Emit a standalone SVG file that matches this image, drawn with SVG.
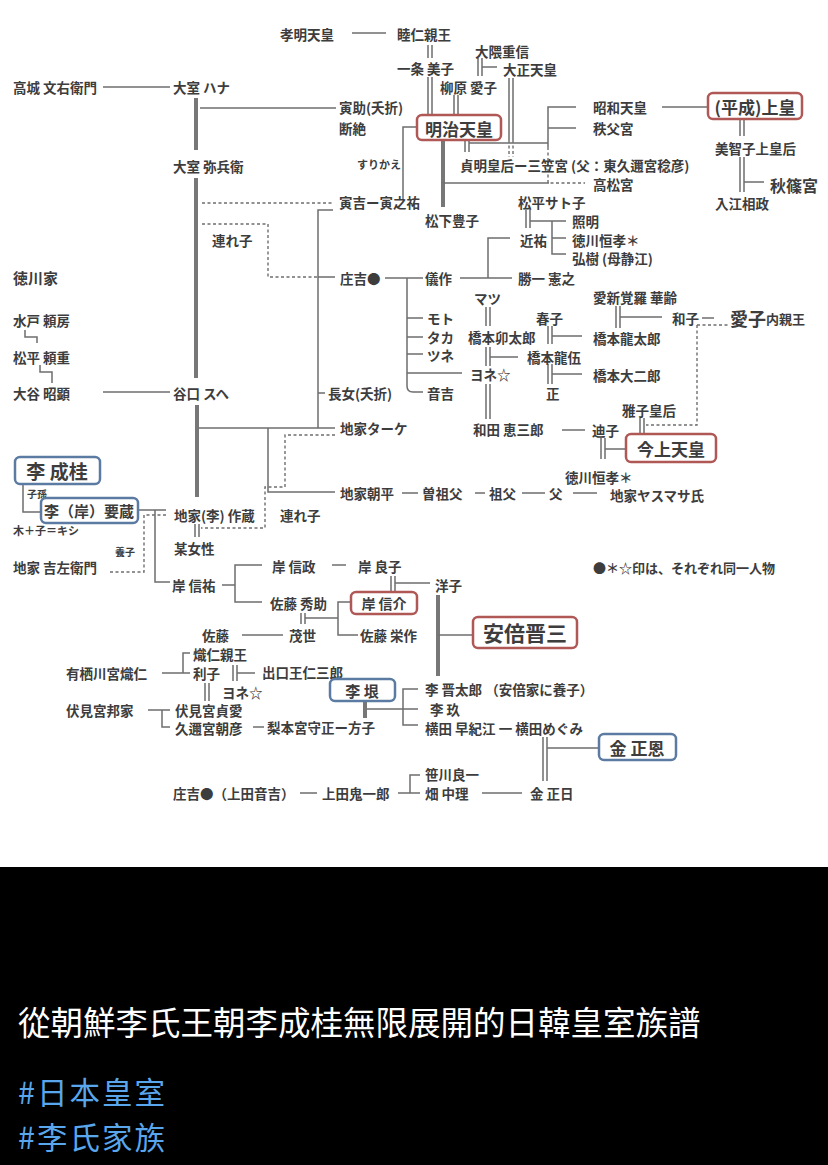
<svg xmlns="http://www.w3.org/2000/svg" width="828" height="1165" viewBox="0 0 828 1165">
<style>
text{font-family:"Noto Sans CJK JP","Noto Sans CJK SC",sans-serif;font-weight:bold;fill:#3d3d3d;font-size:13.5px;dominant-baseline:central}
.s{font-size:11px}
.xs{font-size:10px}
.bx{text-anchor:middle}
.l{stroke:#6e6e6e;stroke-width:1.5;fill:none}
.d{stroke:#6e6e6e;stroke-width:1.4;fill:none;stroke-dasharray:3 2.5}
.k{stroke:#777;stroke-width:4;fill:none}
.rb{fill:#fff;stroke:#b05856;stroke-width:2.5}
.bb{fill:#fff;stroke:#5b7ba3;stroke-width:2.5}
.ft{font-family:"Noto Sans CJK TC","Noto Sans CJK JP",sans-serif;font-weight:normal;font-size:32.5px;fill:#fff}
.ht{fill:#5aa6ec;font-size:30.5px;letter-spacing:2px}
</style>
<rect x="0" y="0" width="828" height="1165" fill="#fff"/>

<g id="connectors">
<path class="l" d="M352 33H386"/>
<path class="l" d="M428 45V58M432 45V58"/>
<path class="l" d="M428 77V116M432 77V116"/>
<path class="l" d="M454 95V116M458 95V116"/>
<path class="l" d="M478 58V76M482 58V76M482 67H497"/>
<path class="l" d="M509 78V140M513 78V140"/>
<path class="d" d="M509 140V157M513 140V157"/>
<path class="l" d="M200 108H336"/>
<path class="l" d="M417 127H403V200"/>
<path class="k" d="M443 140V207"/>
<path class="l" d="M443 183H549"/>
<path class="l" d="M465 140V152M469 140V152M469 143H548"/>
<path class="l" d="M576 107H548V147M548 128H576"/>
<path class="d" d="M548 147V183H585"/>
<path class="l" d="M662 107H708"/>
<path class="l" d="M740 120V136M744 120V136"/>
<path class="l" d="M740 157V192M744 157V192M744 182H764"/>
<path class="l" d="M103 87H170"/>
<path class="k" d="M196 98V150"/>
<path class="k" d="M196 178V378"/>
<path class="l" d="M103 392H170"/>
<path class="k" d="M197 405V497"/>
<path class="d" d="M202 203H333"/>
<path class="d" d="M202 224H268V277H318"/>
<path class="l" d="M333 210H318V428M318 277H335M318 393H325"/>
<path class="l" d="M199 428H335"/>
<path class="l" d="M268 428V492H335"/>
<path class="d" d="M335 435H285V487H265V528H201"/>
<path class="l" d="M195 524V537M199 524V537"/>
<path class="l" d="M25 330V337H37V343"/>
<path class="l" d="M40 365V372H52V383"/>
<path class="l" d="M385 278H423"/>
<path class="l" d="M407 278V386Q407 392 413 392H423M407 318H423M407 337H423M407 354H423M407 373H462"/>
<path class="l" d="M460 278H512M488 278V238H510"/>
<path class="l" d="M486 307V326M490 307V326"/>
<path class="l" d="M486 347V366M490 347V366M490 357H518"/>
<path class="l" d="M486 384V419M490 384V419"/>
<path class="l" d="M548 326V344M552 326V344M552 336H582"/>
<path class="l" d="M548 364V384M552 364V384M552 374H582"/>
<path class="l" d="M526 210V228M530 210V228M530 221H566"/>
<path class="l" d="M552 221V254H566M552 238H566"/>
<path class="l" d="M616 306V328M620 306V328M620 317H662"/>
<path class="l" d="M702 318H714"/>
<path class="d" d="M697 325H730M697 325V425H646"/>
<path class="l" d="M640 418V433M644 418V433"/>
<path class="l" d="M562 430H585"/>
<path class="l" d="M601 438V459M605 438V459M605 449H626"/>
<path class="l" d="M402 493H418M475 493H485M522 493H545M573 493H597"/>
<path class="l" d="M23 483V512H42"/>
<path class="l" d="M138 510H166M155 510V582H170"/>
<path class="d" d="M110 572H144V515H166"/>
<path class="l" d="M222 585H235M262 565H235V602H262"/>
<path class="l" d="M332 565H346"/>
<path class="l" d="M391 576V591M395 576V591M395 583H430"/>
<path class="l" d="M351 602H338V635H358"/>
<path class="l" d="M301 613V624M305 613V624M305 618H338"/>
<path class="l" d="M242 635H283"/>
<path class="k" d="M438 595V676"/>
<path class="l" d="M438 635H473"/>
<path class="l" d="M190 653H183V673H190M162 673H183"/>
<path class="l" d="M233 665V681M237 665V681M237 673H255"/>
<path class="l" d="M205 683V701M209 683V701"/>
<path class="l" d="M148 710H170M162 710V727H170"/>
<path class="l" d="M253 727H264"/>
<path class="k" d="M365 701V718"/>
<path class="l" d="M367 709H418M418 689H403V725H418"/>
<path class="l" d="M543 737V781M547 737V781M547 748H599"/>
<path class="l" d="M300 793H317M398 793H420M420 775H410V793"/>
<path class="l" d="M482 793H522"/>
</g>

<g id="n-koumei"><text x="280" y="34">孝明天皇</text></g>
<g id="n-mutsuhito"><text x="397" y="34">睦仁親王</text></g>
<g id="n-ichijo"><text x="397" y="68">一条 美子</text></g>
<g id="n-okuma"><text x="475" y="51">大隈重信</text></g>
<g id="n-taisho"><text x="503" y="69">大正天皇</text></g>
<g id="n-yanagiwara"><text x="440" y="87">柳原 愛子</text></g>
<g id="n-torasuke"><text x="339" y="107">寅助(夭折)</text><text x="339" y="128">断絶</text></g>
<g id="n-meiji"><rect class="rb" x="417" y="115" width="84" height="25" rx="5"/><text class="bx" x="459" y="128" style="font-size:17px">明治天皇</text></g>
<g id="n-surikae"><text class="s" x="357" y="164">すりかえ</text></g>
<g id="n-torakichi"><text x="339" y="202">寅吉ー寅之祐</text></g>
<g id="n-teimei"><text x="460" y="165">貞明皇后ー三笠宮 (父：東久邇宮稔彦)</text></g>
<g id="n-showa"><text x="593" y="107">昭和天皇</text></g>
<g id="n-chichibu"><text x="593" y="128">秩父宮</text></g>
<g id="n-takamatsu"><text x="593" y="184">高松宮</text></g>
<g id="n-heisei"><rect class="rb" x="708" y="93" width="94" height="26" rx="5"/><text class="bx" x="755" y="106" style="font-size:17px">(平成)上皇</text></g>
<g id="n-michiko"><text x="715" y="148">美智子上皇后</text></g>
<g id="n-akishino"><text x="770" y="185" style="font-size:16px">秋篠宮</text></g>
<g id="n-irie"><text x="715" y="203">入江相政</text></g>
<g id="n-matsushita"><text x="425" y="220">松下豊子</text></g>
<g id="n-matsudaira-sato"><text x="518" y="202">松平サト子</text></g>
<g id="n-teruaki"><text x="572" y="221">照明</text></g>
<g id="n-chikasuke"><text x="520" y="240">近祐</text></g>
<g id="n-tokugawa1"><text x="572" y="240">徳川恒孝＊</text></g>
<g id="n-hiroki"><text x="572" y="258">弘樹 (母静江)</text></g>
<g id="n-tsurego1"><text x="212" y="240">連れ子</text></g>
<g id="n-tokugawake"><text x="13" y="277" style="font-size:15px">徳川家</text></g>
<g id="n-mito"><text x="13" y="320">水戸 頼房</text></g>
<g id="n-matsudaira"><text x="13" y="357">松平 頼重</text></g>
<g id="n-otani"><text x="13" y="393">大谷 昭顕</text></g>
<g id="n-takagi"><text x="13" y="87">高城 文右衛門</text></g>
<g id="n-omuro-hana"><text x="173" y="87">大室 ハナ</text></g>
<g id="n-omuro-yahei"><text x="173" y="166">大室 弥兵衛</text></g>
<g id="n-taniguchi"><text x="173" y="393">谷口 スヘ</text></g>
<g id="n-shokichi"><text x="340" y="278">庄吉●</text></g>
<g id="n-gisaku"><text x="425" y="278">儀作</text></g>
<g id="n-masaru"><text x="518" y="278">勝一 憲之</text></g>
<g id="n-matsu"><text x="474" y="298">マツ</text></g>
<g id="n-aishin"><text x="593" y="297">愛新覚羅 華齢</text></g>
<g id="n-moto"><text x="427" y="318">モト</text></g>
<g id="n-haruko"><text x="536" y="318">春子</text></g>
<g id="n-kazuko"><text x="672" y="318">和子</text></g>
<g id="n-aiko"><text x="730" y="318"><tspan style="font-size:18px">愛子</tspan><tspan style="font-size:13px">内親王</tspan></text></g>
<g id="n-taka"><text x="427" y="337">タカ</text></g>
<g id="n-utaro"><text x="468" y="337">橋本卯太郎</text></g>
<g id="n-ryutaro"><text x="593" y="338">橋本龍太郎</text></g>
<g id="n-tsune"><text x="427" y="355">ツネ</text></g>
<g id="n-ryugo"><text x="527" y="357">橋本龍伍</text></g>
<g id="n-yone"><text x="470" y="374">ヨネ☆</text></g>
<g id="n-daijiro"><text x="593" y="375">橋本大二郎</text></g>
<g id="n-otokichi"><text x="427" y="393">音吉</text></g>
<g id="n-tadashi"><text x="546" y="393">正</text></g>
<g id="n-chojo"><text x="328" y="393">長女(夭折)</text></g>
<g id="n-masako"><text x="622" y="410">雅子皇后</text></g>
<g id="n-taake"><text x="340" y="428">地家ターケ</text></g>
<g id="n-wada"><text x="473" y="429">和田 恵三郎</text></g>
<g id="n-michiko2"><text x="592" y="430">迪子</text></g>
<g id="n-kinjo"><rect class="rb" x="626" y="434" width="90" height="28" rx="5"/><text class="bx" x="671" y="448" style="font-size:17px">今上天皇</text></g>
<g id="n-tokugawa2"><text x="565" y="477">徳川恒孝＊</text></g>
<g id="n-asahei"><text x="340" y="493">地家朝平</text></g>
<g id="n-sosofu"><text x="422" y="493">曽祖父</text></g>
<g id="n-sofu"><text x="489" y="493">祖父</text></g>
<g id="n-chichi"><text x="549" y="493">父</text></g>
<g id="n-yasumasa"><text x="610" y="495">地家ヤスマサ氏</text></g>
<g id="n-tsurego2"><text x="280" y="515">連れ子</text></g>
<g id="n-seikei"><rect class="bb" x="15" y="457" width="85" height="27" rx="5"/><text class="bx" x="57" y="470" style="font-size:19px">李 成桂</text></g>
<g id="n-shison"><text class="xs" x="27" y="493">子孫</text></g>
<g id="n-yozo"><rect class="bb" x="41" y="498" width="97" height="25" rx="5"/><text class="bx" x="89" y="510" style="font-size:15px">李（岸）要蔵</text></g>
<g id="n-kishi-note"><text class="s" x="13" y="530">木＋子＝キシ</text></g>
<g id="n-yoshi"><text class="xs" x="115" y="551">養子</text></g>
<g id="n-kichizaemon"><text x="13" y="567">地家 吉左衛門</text></g>
<g id="n-sakuzo"><text x="174" y="515">地家(李) 作蔵</text></g>
<g id="n-bojosei"><text x="174" y="548">某女性</text></g>
<g id="n-nobusuke-kishi"><text x="172" y="585">岸 信祐</text></g>
<g id="n-nobumasa"><text x="272" y="566">岸 信政</text></g>
<g id="n-yoshiko"><text x="358" y="566">岸 良子</text></g>
<g id="n-yoko"><text x="435" y="585">洋子</text></g>
<g id="n-hidesuke"><text x="270" y="603">佐藤 秀助</text></g>
<g id="n-nobusuke"><rect class="rb" x="351" y="592" width="66" height="22" rx="5"/><text class="bx" x="384" y="603" style="font-size:14px">岸 信介</text></g>
<g id="n-sato"><text x="202" y="635">佐藤</text></g>
<g id="n-moyo"><text x="289" y="635">茂世</text></g>
<g id="n-eisaku"><text x="360" y="635">佐藤 栄作</text></g>
<g id="n-abe"><rect class="rb" x="473" y="617" width="104" height="31" rx="5"/><text class="bx" x="525" y="632" style="font-size:21px">安倍晋三</text></g>
<g id="n-taruhito"><text x="193" y="654">熾仁親王</text></g>
<g id="n-arisugawa"><text x="66" y="673">有栖川宮熾仁</text></g>
<g id="n-riko"><text x="193" y="673">利子</text></g>
<g id="n-deguchi"><text x="262" y="672">出口王仁三郎</text></g>
<g id="n-yone2"><text x="222" y="692">ヨネ☆</text></g>
<g id="n-eun"><rect class="bb" x="330" y="679" width="65" height="22" rx="5"/><text class="bx" x="362" y="690" style="font-size:15px">李 垠</text></g>
<g id="n-shintaro"><text x="425" y="689">李 晋太郎 （安倍家に養子）</text></g>
<g id="n-gu"><text x="430" y="708.5">李 玖</text></g>
<g id="n-fushimi-kuniie"><text x="66" y="710">伏見宮邦家</text></g>
<g id="n-fushimi-sadanaru"><text x="175" y="710">伏見宮貞愛</text></g>
<g id="n-kuni"><text x="175" y="728">久邇宮朝彦</text></g>
<g id="n-nashimoto"><text x="267" y="727">梨本宮守正ー方子</text></g>
<g id="n-yokota"><text x="425" y="727.5">横田 早紀江 一 横田めぐみ</text></g>
<g id="n-kimjongun"><rect class="bb" x="599" y="734" width="77" height="26" rx="5"/><text class="bx" x="637" y="747" style="font-size:17px">金 正恩</text></g>
<g id="n-sasakawa"><text x="425" y="774">笹川良一</text></g>
<g id="n-ueda-otokichi"><text x="173" y="793">庄吉●（上田音吉）</text></g>
<g id="n-ueda-onisaburo"><text x="322" y="793">上田鬼一郎</text></g>
<g id="n-hata"><text x="425" y="793">畑 中理</text></g>
<g id="n-kimjongil"><text x="530" y="793">金 正日</text></g>
<g id="n-legend"><text x="593" y="567" style="font-size:13px">●＊☆印は、それぞれ同一人物</text></g>

<g id="footer">
<rect x="0" y="867" width="828" height="298" fill="#000"/>
<text class="ft" x="18" y="1020">從朝鮮李氏王朝李成桂無限展開的日韓皇室族譜</text>
<text class="ft ht" x="18" y="1091">#日本皇室</text>
<text class="ft ht" x="18" y="1135.5">#李氏家族</text>
</g>
</svg>
